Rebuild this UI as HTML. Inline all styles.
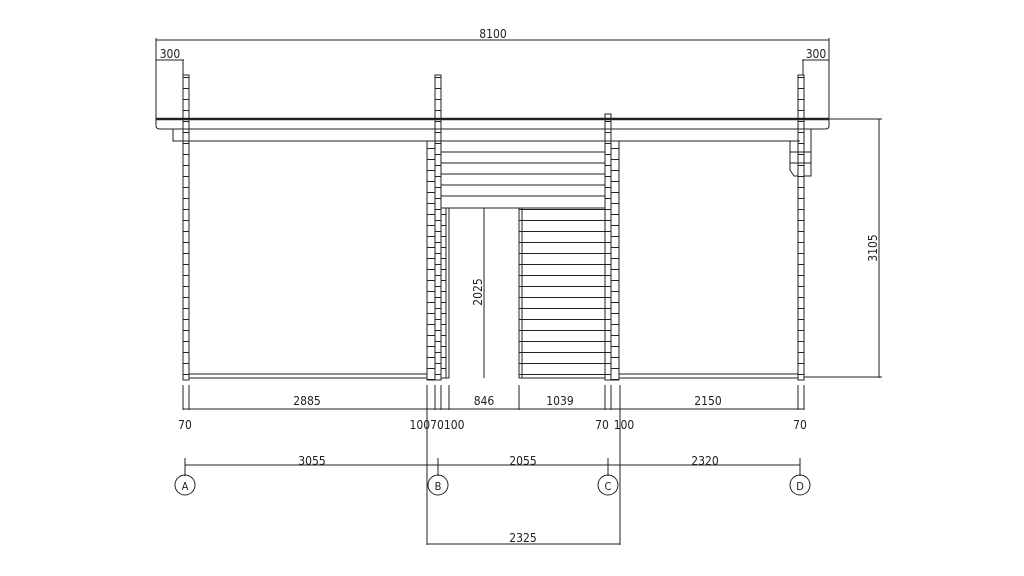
<!DOCTYPE html>
<html><head><style>html,body{margin:0;padding:0;background:#fff;width:1024px;height:576px;overflow:hidden}
svg text{font-family:"DejaVu Sans Condensed","DejaVu Sans","Liberation Sans",sans-serif;font-size:12px;fill:#222}</style></head>
<body>
<svg width="1024" height="576" viewBox="0 0 1024 576" xmlns="http://www.w3.org/2000/svg">
<defs>
<pattern id="lg" x="0" y="0" width="20" height="11" patternUnits="userSpaceOnUse"><line x1="0" y1="0.5" x2="20" y2="0.5" stroke="#222" stroke-width="1"/></pattern>
<pattern id="lg2" x="0" y="5" width="20" height="11" patternUnits="userSpaceOnUse"><line x1="0" y1="0.5" x2="20" y2="0.5" stroke="#222" stroke-width="1"/></pattern>
<pattern id="fl" x="0" y="0" width="8" height="4" patternUnits="userSpaceOnUse"><line x1="0" y1="2" x2="5" y2="2" stroke="#444" stroke-width="1"/></pattern>
</defs>
<g stroke="#222" stroke-width="1" fill="none">
<!-- top dims -->
<line x1="156" y1="40" x2="829" y2="40"/>
<line x1="156" y1="38" x2="156" y2="125"/><line x1="829" y1="38" x2="829" y2="125"/>
<line x1="156" y1="60" x2="184" y2="60"/><line x1="802" y1="60" x2="829" y2="60"/>
<line x1="183" y1="60" x2="183" y2="75"/><line x1="803" y1="60" x2="803" y2="75"/>
<!-- roof -->
<line x1="156" y1="119" x2="829" y2="119" stroke-width="2.5"/>
<path d="M156 119 V126 Q156 129 160 129 H825 Q829 129 829 126 V119"/>
<line x1="183" y1="141" x2="800" y2="141"/>
<rect x="173" y="129" width="10" height="12"/>
<!-- horizontal boards B-C -->
<g>
<line x1="441" y1="152" x2="605" y2="152"/><line x1="441" y1="163" x2="605" y2="163"/>
<line x1="441" y1="174" x2="605" y2="174"/><line x1="441" y1="185" x2="605" y2="185"/>
<line x1="441" y1="196" x2="605" y2="196"/><line x1="441" y1="208" x2="605" y2="208"/>
</g>
<rect x="519" y="208" width="86" height="170" fill="url(#lg)"/>
<rect x="519" y="208" width="3" height="170"/>
<line x1="484" y1="208" x2="484" y2="378"/>
<!-- columns -->
<rect x="183" y="75" width="6" height="305" fill="url(#lg)"/>
<rect x="427" y="141" width="8" height="239" fill="url(#lg2)"/>
<rect x="435" y="75" width="6" height="305" fill="url(#lg)"/>
<rect x="441" y="208" width="5" height="170" fill="url(#lg2)"/>
<rect x="446" y="208" width="3" height="170"/>
<rect x="605" y="114" width="6" height="266" fill="url(#lg)"/>
<rect x="611" y="141" width="8" height="239" fill="url(#lg2)"/>
<rect x="798" y="75" width="6" height="305" fill="url(#lg)"/>
<path d="M804 129 H811 V176 H804"/>
<path d="M798 141 H790 V170 L794 176 H798"/>
<line x1="790" y1="152" x2="811" y2="152"/><line x1="790" y1="163" x2="811" y2="163"/>
<!-- floor -->
<rect x="189" y="374" width="238" height="4" fill="url(#fl)"/>
<rect x="619" y="374" width="179" height="4" fill="url(#fl)"/>
<!-- bottom dim -->
<g>
<line x1="183" y1="385" x2="183" y2="410"/><line x1="189" y1="385" x2="189" y2="410"/>
<line x1="427" y1="385" x2="427" y2="545"/><line x1="435" y1="385" x2="435" y2="410"/>
<line x1="441" y1="385" x2="441" y2="410"/><line x1="449" y1="385" x2="449" y2="410"/>
<line x1="519" y1="385" x2="519" y2="410"/>
<line x1="605" y1="385" x2="605" y2="410"/><line x1="611" y1="385" x2="611" y2="410"/>
<line x1="620" y1="385" x2="620" y2="545"/>
<line x1="798" y1="385" x2="798" y2="410"/><line x1="804" y1="385" x2="804" y2="410"/>
<line x1="183" y1="409" x2="804" y2="409"/>
</g>
<line x1="185" y1="465" x2="800" y2="465"/>
<line x1="185" y1="458" x2="185" y2="476"/><line x1="438" y1="458" x2="438" y2="476"/>
<line x1="608" y1="458" x2="608" y2="476"/><line x1="800" y1="458" x2="800" y2="476"/>
<circle cx="185" cy="485" r="10"/><circle cx="438" cy="485" r="10"/>
<circle cx="608" cy="485" r="10"/><circle cx="800" cy="485" r="10"/>
<line x1="427" y1="544" x2="620" y2="544"/>
<!-- right dim -->
<line x1="829" y1="119" x2="882" y2="119"/><line x1="804" y1="377" x2="882" y2="377"/>
<line x1="879" y1="119" x2="879" y2="378"/>
</g>
<text x="493" y="38" text-anchor="middle">8100</text>
<text x="170" y="58" text-anchor="middle">300</text>
<text x="816" y="58" text-anchor="middle">300</text>
<text x="307" y="405" text-anchor="middle">2885</text>
<text x="484" y="405" text-anchor="middle">846</text>
<text x="560" y="405" text-anchor="middle">1039</text>
<text x="708" y="405" text-anchor="middle">2150</text>
<text x="185" y="429" text-anchor="middle">70</text>
<text x="437" y="429" text-anchor="middle">10070100</text>
<text x="602" y="429" text-anchor="middle">70</text>
<text x="624" y="429" text-anchor="middle">100</text>
<text x="800" y="429" text-anchor="middle">70</text>
<text x="312" y="465" text-anchor="middle">3055</text>
<text x="523" y="465" text-anchor="middle">2055</text>
<text x="705" y="465" text-anchor="middle">2320</text>
<text x="523" y="542" text-anchor="middle">2325</text>
<text x="185" y="490" text-anchor="middle" style="font-size:11px">A</text>
<text x="438" y="490" text-anchor="middle" style="font-size:11px">B</text>
<text x="608" y="490" text-anchor="middle" style="font-size:11px">C</text>
<text x="800" y="490" text-anchor="middle" style="font-size:11px">D</text>
<text transform="translate(877,248) rotate(-90)" text-anchor="middle">3105</text>
<text transform="translate(482,292) rotate(-90)" text-anchor="middle">2025</text>
</svg>
</body></html>
